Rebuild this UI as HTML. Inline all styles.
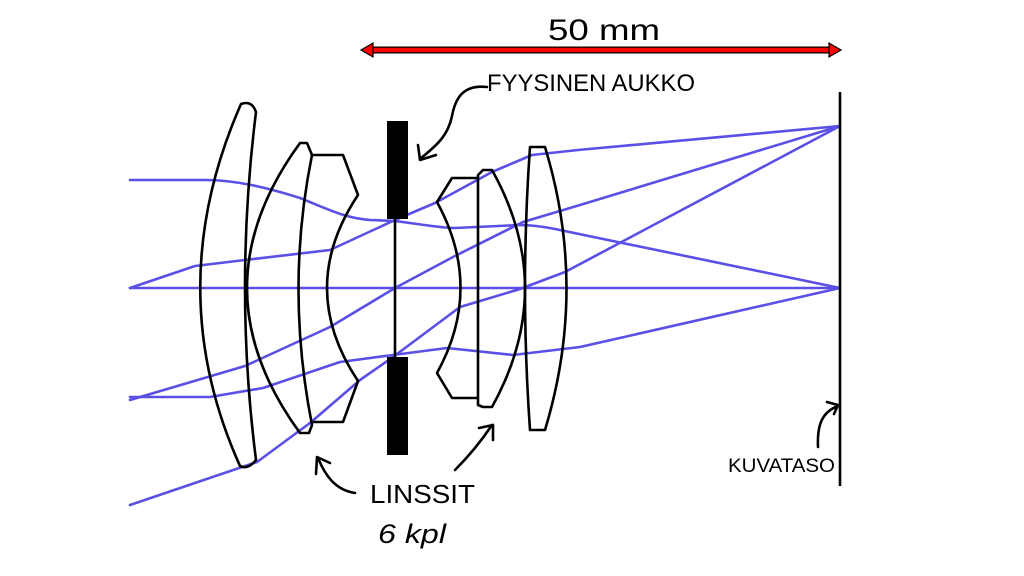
<!DOCTYPE html>
<html><head><meta charset="utf-8"><style>
html,body{margin:0;padding:0;background:#fff;width:1024px;height:576px;overflow:hidden}
svg{display:block}
text{font-family:"Liberation Sans",sans-serif;fill:#000}
</style></head><body>
<svg width="1024" height="576" viewBox="0 0 1024 576" xmlns="http://www.w3.org/2000/svg">
<g fill="none" stroke="#5a4fe6" stroke-width="2.6" stroke-linejoin="round" stroke-linecap="round">
<path d="M130 180 L205 180 C235 180 265 187 300 198 C330 210 345 218 370 220 L395 221 C420 224 440 228 455 228 L520 225 C530 225 540 226 555 229 L840 288"/>
<path d="M130 288 L195 266 L245 260 L330 250 L395 220 L435 203 L492 172 L532 155 L578 150 L840 126"/>
<path d="M130 288 L840 288"/>
<path d="M130 400 L245 366 L330 327 L395 288 L453 257 L523 222 L580 205 L840 126"/>
<path d="M130 397 L210 397 L263 388 L340 362 L393 355 L447 348 L513 355 L580 347 L840 288"/>
<path d="M130 505 L257 462 L310 423 L360 380 L393 357 L460 307 L520 289 L565 272 L840 126"/>
</g>
<g fill="none" stroke="#000" stroke-width="2.6" stroke-linejoin="round">
<path d="M241 104 Q 160 288 240 466 Q 248 470 256 460 Q 234 288 256 112 Q 252 100 241 104 Z"/>
<path d="M300 143 Q 194 288 300 433 L309 433 L312 425 Q 285 288 312 155 L307 143 Z"/>
<path d="M313 155 L343 155 L358 195 Q 296 288 358 381 L343 422 L313 422"/>
<path d="M478 178 L452 178 L437 202 Q 484 288 437 373 L452 398 L478 398"/>
<path d="M478 405 L478 175 L483 170 L492 170 Q 558 288 492 407 L483 407 Z"/>
<path d="M530 147 L545 147 Q 588 288 545 430 L530 430 Q 520 288 530 147 Z"/>
<path d="M395 218 L395 358"/>
<path d="M840 92 L840 486"/>
<path d="M487 87 C462 84 455 100 452 116 C448 136 436 146 420 159" stroke-linecap="round"/>
<path d="M418 145 L420 160 L436 155" stroke-linecap="round"/>
<path d="M355 493 C335 490 325 475 318 458" stroke-linecap="round"/>
<path d="M316 474 L317 457 L330 463" stroke-linecap="round"/>
<path d="M455 470 C470 455 482 440 492 425" stroke-linecap="round"/>
<path d="M479 428 L493 425 L493 440" stroke-linecap="round"/>
<path d="M818 447 C817 425 822 412 838 406" stroke-linecap="round"/>
<path d="M827 402 L838 405 L834 414" stroke-linecap="round"/>
</g>
<rect x="387" y="121" width="21" height="98" fill="#000"/>
<rect x="387" y="357" width="21" height="98" fill="#000"/>
<path d="M372 50 L830 50" stroke="#000" stroke-width="7"/>
<path d="M372 50 L830 50" stroke="#ff0000" stroke-width="4.5"/>
<path d="M361 50 L373 43 L373 57 Z M841 50 L829 43 L829 57 Z" fill="#ff0000" stroke="#000" stroke-width="1.2"/>
<text x="548" y="40" font-size="30" textLength="112" lengthAdjust="spacingAndGlyphs">50 mm</text>
<text x="487" y="91" font-size="24" textLength="208" lengthAdjust="spacingAndGlyphs">FYYSINEN AUKKO</text>
<text x="370" y="503" font-size="26" textLength="105" lengthAdjust="spacingAndGlyphs">LINSSIT</text>
<text x="378" y="543" font-size="27" font-style="italic" textLength="68" lengthAdjust="spacingAndGlyphs">6 kpl</text>
<text x="728" y="472" font-size="19" textLength="107" lengthAdjust="spacingAndGlyphs">KUVATASO</text>
</svg>
</body></html>
